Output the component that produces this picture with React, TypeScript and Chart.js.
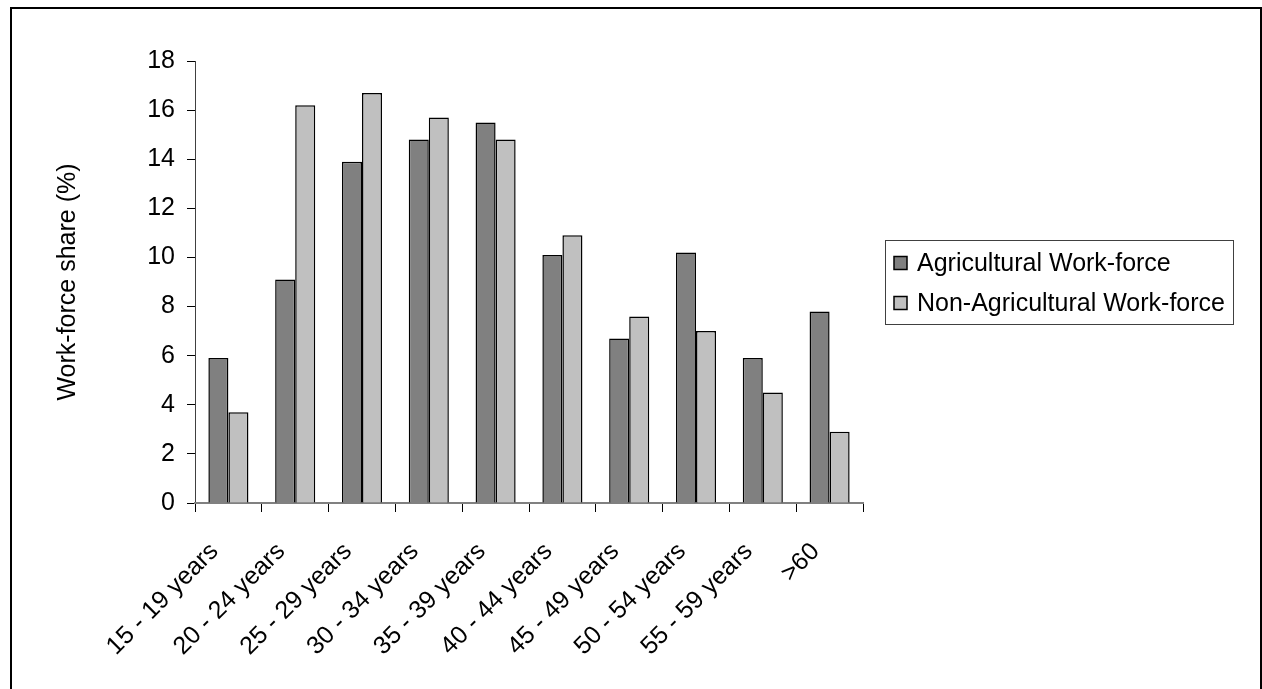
import React, { useEffect, useRef } from 'react';
import { Chart, registerables } from 'chart.js';

Chart.register(...registerables);

const ageGroups = [
  '15 - 19 years', '20 - 24 years', '25 - 29 years', '30 - 34 years', '35 - 39 years',
  '40 - 44 years', '45 - 49 years', '50 - 54 years', '55 - 59 years', '>60',
];
const agricultural = [5.9, 9.1, 13.9, 14.8, 15.5, 10.1, 6.7, 10.2, 5.9, 7.8];
const nonAgricultural = [3.7, 16.2, 16.7, 15.7, 14.8, 10.9, 7.6, 7.0, 4.5, 2.9];
const seriesNames = ['Agricultural Work-force', 'Non-Agricultural Work-force'];
const seriesColors = ['#808080', '#c0c0c0'];

const FONT = "'Liberation Sans', Arial, sans-serif";

// legend drawn inside a framed box, like the spreadsheet original
const boxedLegend = {
  id: 'boxedLegend',
  afterDraw(chart: Chart) {
    const ctx = chart.ctx;
    const x = 885, y = 240, w = 348, h = 84;
    ctx.save();
    ctx.strokeStyle = '#404040';
    ctx.lineWidth = 1;
    ctx.strokeRect(x + 0.5, y + 0.5, w, h);
    ctx.font = `25px ${FONT}`;
    ctx.textBaseline = 'middle';
    chart.data.datasets.forEach((ds: any, i: number) => {
      const cy = y + 23 + i * 40;
      ctx.fillStyle = ds.backgroundColor;
      ctx.fillRect(894, cy - 6.5, 13, 13);
      ctx.strokeStyle = '#000';
      ctx.lineWidth = 1.5;
      ctx.strokeRect(894, cy - 6.5, 13, 13);
      ctx.fillStyle = '#000';
      ctx.fillText(ds.label, 917, cy + 1);
    });
    ctx.restore();
  },
};

const App: React.FC = () => {
  const canvasRef = useRef<HTMLCanvasElement>(null);
  const chartRef = useRef<Chart | null>(null);

  useEffect(() => {
    if (!canvasRef.current) return;
    if (chartRef.current) chartRef.current.destroy();

    chartRef.current = new Chart(canvasRef.current, {
      type: 'bar',
      data: {
        labels: ageGroups,
        datasets: [
          {
            label: seriesNames[0],
            data: agricultural,
            backgroundColor: seriesColors[0],
            borderColor: '#000',
            borderWidth: 1.5,
            categoryPercentage: 0.6,
            barPercentage: 1.0,
          },
          {
            label: seriesNames[1],
            data: nonAgricultural,
            backgroundColor: seriesColors[1],
            borderColor: '#000',
            borderWidth: 1.5,
            categoryPercentage: 0.6,
            barPercentage: 1.0,
          },
        ],
      },
      options: {
        animation: false,
        responsive: true,
        maintainAspectRatio: false,
        layout: { padding: { left: 0, top: 61, right: 399, bottom: 0 } },
        scales: {
          y: {
            min: 0,
            max: 18,
            ticks: { stepSize: 2, color: '#000', padding: 12, font: { family: FONT, size: 25 } },
            grid: { drawOnChartArea: false, drawTicks: true, tickLength: 8, color: '#000' },
            border: { display: true, color: '#404040', width: 1 },
            title: {
              display: true,
              text: 'Work-force share (%)',
              color: '#000',
              font: { family: FONT, size: 25 },
              padding: { top: 53, bottom: 0 },
            },
            afterFit: (scale: any) => { scale.width = 195; },
          },
          x: {
            ticks: {
              color: '#000',
              minRotation: 45,
              maxRotation: 45,
              autoSkip: false,
              padding: 25,
              labelOffset: -14,
              font: { family: FONT, size: 25 },
            },
            grid: { drawOnChartArea: false, drawTicks: true, tickLength: 9, color: '#000', offset: true },
            border: { display: true, color: '#808080', width: 2 },
            afterFit: (scale: any) => { scale.height = 186; },
          },
        },
        plugins: {
          legend: { display: false },
          tooltip: { enabled: false },
        },
      },
      plugins: [boxedLegend],
    });

    return () => {
      if (chartRef.current) {
        chartRef.current.destroy();
        chartRef.current = null;
      }
    };
  }, []);

  return (
    <div style={{ position: 'fixed', left: 0, top: 0, width: 1262, height: 689, overflow: 'hidden', background: '#fff' }}>
      <div
        style={{
          position: 'absolute', left: 10, top: 7, width: 1252, height: 760,
          border: '2px solid #000', boxSizing: 'border-box',
        }}
      />
      <div style={{ position: 'absolute', left: 0, top: 0, width: 1262, height: 689 }}>
        <canvas ref={canvasRef}></canvas>
      </div>
    </div>
  );
};

export default App;
